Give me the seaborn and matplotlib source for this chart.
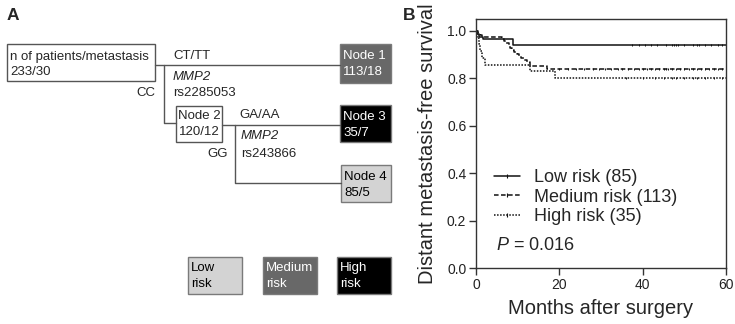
import numpy as np
import pandas as pd
import matplotlib
matplotlib.use('Agg')
import matplotlib.pyplot as plt
import seaborn as sns
from matplotlib.patches import Rectangle
from matplotlib.lines import Line2D

# Kaplan-Meier steps (months after surgery, survival)
low_time = [0, 0.3, 0.6, 1.7, 8.9]
low_surv = [1.0, 0.988, 0.976, 0.965, 0.941]
med_time = [0, 0.5, 1.0, 1.5, 6.2, 6.8, 7.3, 7.8, 8.2, 8.7, 9.2, 9.8, 10.3, 10.8, 11.5, 12.2, 13.0, 17.0]
med_surv = [1.0, 0.991, 0.982, 0.973, 0.965, 0.956, 0.947, 0.938, 0.929, 0.920, 0.912, 0.903,
            0.894, 0.885, 0.876, 0.867, 0.850, 0.841]
high_time = [0, 0.3, 0.6, 0.9, 1.5, 2.1, 13.0, 19.0]
high_surv = [1.0, 0.971, 0.943, 0.914, 0.886, 0.857, 0.829, 0.800]

# censoring marks (months)
low_cens = [37.5, 39, 40.5, 42, 43.5, 45.5, 47, 47.5, 48, 48.5, 50, 52, 53, 53.5, 55, 56.5, 58, 59]
med_cens = [20, 22, 24, 26, 28, 29.5, 31, 32.5, 34, 35, 36.5, 38, 39, 40, 41, 42, 43, 44, 45,
            45.5, 46, 47, 48, 49, 50, 51, 52, 53, 54, 55, 56, 57, 58, 59]
high_cens = [36, 40, 43, 45, 47, 48, 50, 52, 53, 55, 57, 59]

groups = ['Low risk (85)', 'Medium risk (113)', 'High risk (35)']
p_text = '0.016'
max_month = 60

# tree texts for panel A
root_lines = ['n of patients/metastasis', '233/30']
node_lines = {'Node 1': '113/18', 'Node 2': '120/12', 'Node 3': '35/7', 'Node 4': '85/5'}
split1 = ['CT/TT', 'CC', 'MMP2', 'rs2285053']
split2 = ['GA/AA', 'GG', 'MMP2', 'rs243866']
risk_labels = ['Low\nrisk', 'Medium\nrisk', 'High\nrisk']

light, mid, dark = '#d3d3d3', '#686868', '#000000'

sns.set_style('ticks')
plt.rcParams['font.family'] = ['Liberation Sans', 'DejaVu Sans']
plt.rcParams['mathtext.fontset'] = 'custom'
plt.rcParams['mathtext.it'] = 'Liberation Sans:italic'
plt.rcParams['mathtext.rm'] = 'Liberation Sans'

fig = plt.figure(figsize=(7.35, 3.24), dpi=100)

# ---------- panel A : tree drawn in pixel coords ----------
axa = fig.add_axes([0, 0, 400 / 735, 1])
axa.set_xlim(0, 400)
axa.set_ylim(324, 0)
axa.axis('off')

fs = 9.5
line_c = '#555555'
edge_c = '#7a7a7a'


def box(x, y, w, h, fc, lines, tc):
    axa.add_patch(Rectangle((x, y), w, h, facecolor=fc, edgecolor=edge_c, lw=1.0))
    axa.text(x + 3, y + 12, lines[0], fontsize=fs, color=tc, va='center', ha='left')
    axa.text(x + 3, y + 28, lines[1], fontsize=fs, color=tc, va='center', ha='left')


axa.text(7, 16, 'A', fontsize=12.5, fontweight='bold', va='center')

# root and connectors
axa.plot([155, 340], [65, 65], color=line_c, lw=1)
axa.plot([164, 164, 176], [65, 123, 123], color=line_c, lw=1)
axa.plot([222, 340], [125, 125], color=line_c, lw=1)
axa.plot([235, 235, 341], [125, 183, 183], color=line_c, lw=1)

axa.add_patch(Rectangle((7, 44), 148, 37, facecolor='white', edgecolor=line_c, lw=1))
axa.text(10, 57, root_lines[0], fontsize=fs, va='center')
axa.text(10, 72, root_lines[1], fontsize=fs, va='center')

axa.text(173, 56, split1[0], fontsize=fs, va='center')
axa.text(155, 93, split1[1], fontsize=fs, va='center', ha='right')
axa.text(173, 77, split1[2], fontsize=fs, va='center', style='italic')
axa.text(173, 93, split1[3], fontsize=fs, va='center')

axa.add_patch(Rectangle((176, 106), 46, 36, facecolor='white', edgecolor=line_c, lw=1))
axa.text(199, 116, 'Node 2', fontsize=fs, va='center', ha='center')
axa.text(199, 132, node_lines['Node 2'], fontsize=fs, va='center', ha='center')

axa.text(239, 115, split2[0], fontsize=fs, va='center')
axa.text(228, 154, split2[1], fontsize=fs, va='center', ha='right')
axa.text(241, 136, split2[2], fontsize=fs, va='center', style='italic')
axa.text(241, 154, split2[3], fontsize=fs, va='center')

box(340, 44, 51, 39, mid, ['Node 1', node_lines['Node 1']], 'white')
box(340, 105, 51, 37, dark, ['Node 3', node_lines['Node 3']], 'white')
box(341, 165, 50, 37, light, ['Node 4', node_lines['Node 4']], 'black')

# risk colour key
for x0, fc, lab, tc in zip([188, 263, 337], [light, mid, dark], risk_labels, ['black', 'white', 'white']):
    axa.add_patch(Rectangle((x0, 257), 54, 37, facecolor=fc, edgecolor=edge_c, lw=1.0))
    top, bottom = lab.split('\n')
    axa.text(x0 + 3, 268, top, fontsize=fs, color=tc, va='center')
    axa.text(x0 + 3, 284, bottom, fontsize=fs, color=tc, va='center')

# ---------- panel B : Kaplan-Meier ----------
ax = fig.add_axes([476 / 735, 56 / 324, 250 / 735, 249 / 324])

series = [(low_time, low_surv, low_cens, '-'),
          (med_time, med_surv, med_cens, (0, (3, 1.6))),
          (high_time, high_surv, high_cens, (0, (1, 1)))]
handles = []
for (t, s, cens, ls), name in zip(series, groups):
    df = pd.DataFrame({'month': t + [max_month], 'surv': s + [s[-1]]})
    sns.lineplot(data=df, x='month', y='surv', ax=ax, color='#111111', lw=1.1,
                 linestyle=ls, drawstyle='steps-post', estimator=None, sort=False)
    idx = np.searchsorted(t, cens, side='right') - 1
    ax.plot(cens, np.array(s)[idx], ls='none', marker='|', ms=2, mew=0.7, color='#111111')
    handles.append(Line2D([0], [0], color='#111111', lw=1.1, linestyle=ls, marker='|', ms=3, mew=0.8))

ax.set_xlim(0, 60)
ax.set_ylim(0, 1.05)
ax.set_xticks([0, 20, 40, 60])
ax.set_yticks([0, 0.2, 0.4, 0.6, 0.8, 1.0])
ax.set_yticklabels(['0.0', '0.2', '0.4', '0.6', '0.8', '1.0'])
ax.tick_params(labelsize=10, length=5, width=1, color='#333333', labelcolor='#222222', pad=2)
for sp in ax.spines.values():
    sp.set_visible(True)
    sp.set_color('#333333')
    sp.set_linewidth(1)
ax.set_xlabel('Months after surgery', fontsize=14.5, labelpad=5)
ax.set_ylabel('Distant metastasis-free survival', fontsize=14.5, labelpad=7)

ax.legend(handles, groups, loc='center left', bbox_to_anchor=(0.07, 0.285), frameon=False,
          fontsize=13, handlelength=1.45, handletextpad=0.8, labelspacing=0.15,
          borderpad=0, borderaxespad=0)
ax.text(0.08, 0.09, '$\\mathit{P}$ = ' + p_text, transform=ax.transAxes, fontsize=13, va='center')

fig.text(403 / 735, 1 - 16 / 324, 'B', fontsize=12.5, fontweight='bold', va='center')

fig.savefig('out.png', dpi=100)
